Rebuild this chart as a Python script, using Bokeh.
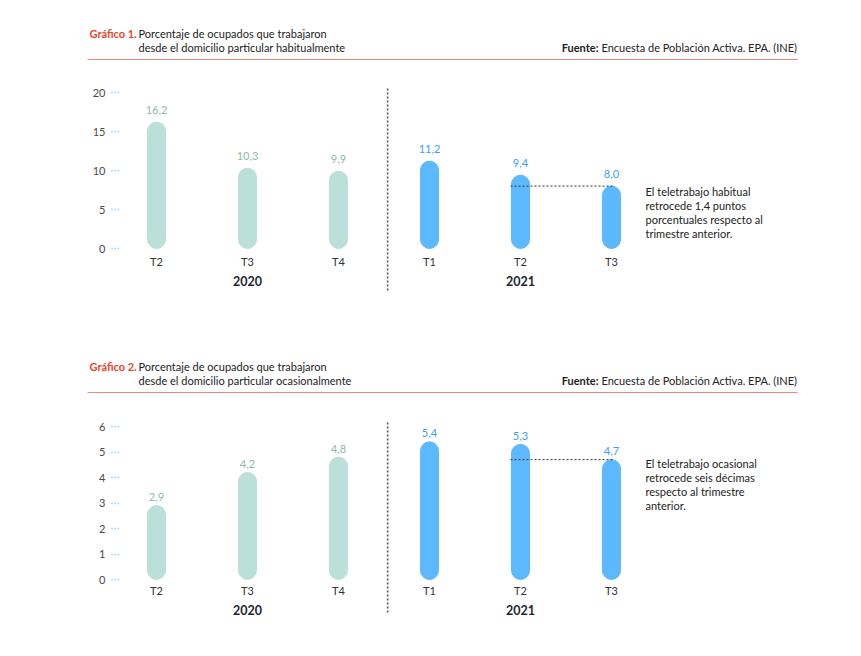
from bokeh.plotting import figure
from bokeh.models import Range1d, FixedTicker, ColumnDataSource
from bokeh.layouts import column, row
from bokeh.embed import file_html
from bokeh.resources import INLINE
from bokeh.core.properties import value

# ---------------- data ----------------
years = ["2020", "2020", "2020", "2021", "2021", "2021"]
quarters = ["T2", "T3", "T4", "T1", "T2", "T3"]
habitual = [16.2, 10.3, 9.9, 11.2, 9.4, 8.0]
ocasional = [2.9, 4.2, 4.8, 5.4, 5.3, 4.7]
ticks1 = [0, 5, 10, 15, 20]
ticks2 = [0, 1, 2, 3, 4, 5, 6]

title1_a = "Gráfico 1."
title1_b = ["Porcentaje de ocupados que trabajaron", "desde el domicilio particular habitualmente"]
title2_a = "Gráfico 2."
title2_b = ["Porcentaje de ocupados que trabajaron", "desde el domicilio particular ocasionalmente"]
source_bold = "Fuente:"
source_text = "Encuesta de Población Activa. EPA. (INE)"
note1 = ["El teletrabajo habitual", "retrocede 1,4 puntos", "porcentuales respecto al", "trimestre anterior."]
note2 = ["El teletrabajo ocasional", "retrocede seis décimas", "respecto al trimestre", "anterior."]

# ---------------- style ----------------
FONT = "Lato"
W = 855
GREEN = "#bbe0d9"
GREEN_TXT = "#8fb8ad"
BLUE = "#5cb8ff"
BLUE_TXT = "#3aa0f5"
RED = "#e8452c"
LINE_RED = "#f08a78"
DARK = "#222222"
NAVY = "#1c2633"


def header(title_a, title_b, h):
    p = figure(width=W, height=h, x_range=Range1d(0, W), y_range=Range1d(h, 0),
               output_backend="svg", toolbar_location=None, min_border=0)
    p.axis.visible = False
    p.grid.visible = False
    p.outline_line_color = None
    p.text(x=[89], y=[h - 29], text=[title_a], text_font=value(FONT), text_font_style="bold",
           text_font_size="11px", text_color=RED, text_baseline="middle")
    p.text(x=[138, 138], y=[h - 29, h - 15], text=title_b, text_font=value(FONT),
           text_font_size="11px", text_color=DARK, text_baseline="middle")
    p.text(x=[598], y=[h - 15], text=[source_bold], text_font=value(FONT), text_font_style="bold",
           text_font_size="11px", text_color=DARK, text_baseline="middle", text_align="right")
    p.text(x=[601], y=[h - 15], text=[source_text], text_font=value(FONT),
           text_font_size="11px", text_color=DARK, text_baseline="middle")
    p.segment(x0=[87], x1=[797], y0=[h - 3], y1=[h - 3], line_color=LINE_RED, line_width=1.2)
    return p


def chart(vals, ticks, h, frame_top, frame_bottom, px_per_unit, zero_from_top,
          lbl_off, tick_off, year_off, sep_top, sep_bottom, note, note_off):
    y_top = (zero_from_top - frame_top) / px_per_unit
    y_bot = -(frame_bottom - zero_from_top) / px_per_unit
    left_px, right_px, step = 119, 800, 91.0
    first_center = 156
    x_start = -(first_center - left_px) / step
    x_end = x_start + (right_px - left_px) / step
    p = figure(width=W, height=h, x_range=Range1d(x_start, x_end), y_range=Range1d(y_bot, y_top),
               output_backend="svg", toolbar_location=None,
               min_border_left=left_px, min_border_right=W - right_px,
               min_border_top=frame_top, min_border_bottom=h - frame_bottom)
    p.xaxis.visible = False
    p.grid.visible = False
    p.outline_line_color = None
    ax = p.yaxis[0]
    ax.ticker = FixedTicker(ticks=ticks)
    ax.axis_line_color = None
    ax.minor_tick_line_color = None
    ax.major_tick_in = 0
    ax.major_tick_out = 8
    ax.major_tick_line_color = "#6db8f2"
    ax.major_tick_line_dash = "1 2"
    ax.major_tick_line_width = 1.5
    ax.major_label_standoff = 6
    ax.major_label_text_font = FONT
    ax.major_label_text_font_size = "11px"
    ax.major_label_text_color = "#4a4a4a"

    idx = list(range(len(vals)))
    colors = [GREEN if y == "2020" else BLUE for y in years]
    tcolors = [GREEN_TXT if y == "2020" else BLUE_TXT for y in years]
    labels = [f"{v:.1f}".replace(".", ",") for v in vals]
    src = ColumnDataSource(dict(x=idx, top=vals, color=colors, tcolor=tcolors, label=labels,
                                q=quarters, zero=[0] * len(vals)))
    p.vbar(x="x", top="top", bottom=0, width=18 / step, color="color", source=src,
           border_radius=9)
    p.text(x="x", y="top", text="label", text_color="tcolor", source=src, y_offset=-lbl_off,
           text_font=value(FONT), text_font_size="11px", text_align="center", text_baseline="middle")
    p.text(x="x", y="zero", text="q", source=src, y_offset=tick_off, text_color="#333333",
           text_font=value(FONT), text_font_size="11px", text_align="center", text_baseline="middle")

    groups = []
    for y in years:
        if y not in groups:
            groups.append(y)
    gx = [sum(i for i, yy in enumerate(years) if yy == g) / years.count(g) for g in groups]
    p.text(x=gx, y=[0] * len(groups), text=groups, y_offset=year_off, text_color=NAVY,
           text_font=value(FONT), text_font_style="bold", text_font_size="12.5px",
           text_align="center", text_baseline="middle")

    sep_x = years.index("2021") - 0.46
    p.segment(x0=[sep_x], x1=[sep_x], y0=[(zero_from_top - sep_top) / px_per_unit],
              y1=[-(sep_bottom - zero_from_top) / px_per_unit],
              line_color="#555555", line_width=1.6, line_dash="2 2")

    n = len(vals)
    p.segment(x0=[n - 2 - 10 / step], x1=[n - 1 + 2 / step], y0=[vals[-1]], y1=[vals[-1]],
              line_color="#333333", line_width=1, line_dash="2 2")

    nx = n - 1 + 34 / step
    p.text(x=[nx] * len(note), y=[vals[-1]] * len(note), text=note,
           y_offset=[note_off + 14 * i for i in range(len(note))],
           text_font=value(FONT), text_font_size="11px", text_color=DARK, text_baseline="middle")
    return p


h1 = header(title1_a, title1_b, 62)
c1 = chart(habitual, ticks1, 278, frame_top=18, frame_bottom=234, px_per_unit=7.8,
           zero_from_top=186, lbl_off=12.5, tick_off=13, year_off=32, sep_top=26, sep_bottom=228,
           note=note1, note_off=5)
h2 = header(title2_a, title2_b, 55)
c2 = chart(ocasional, ticks2, 245, frame_top=20, frame_bottom=227, px_per_unit=25.5,
           zero_from_top=184, lbl_off=8.5, tick_off=11, year_off=30.5, sep_top=27, sep_bottom=219,
           note=note2, note_off=4)

layout = column(row(h1), c1, row(h2), c2, spacing=0)
open("out.html", "w").write(file_html(layout, INLINE))
